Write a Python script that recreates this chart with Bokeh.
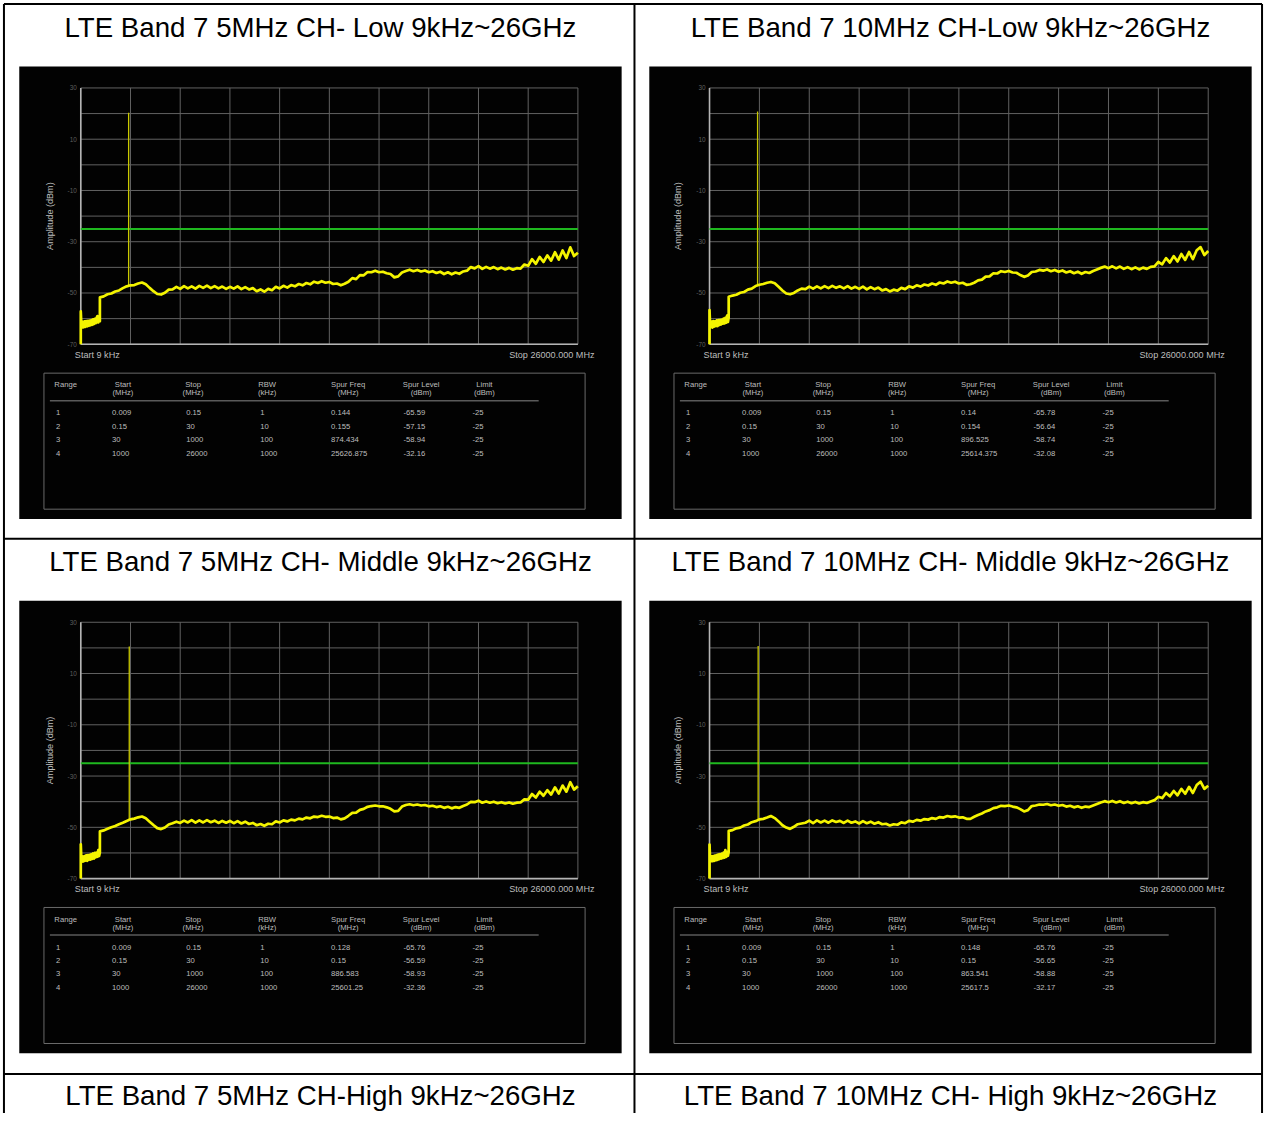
import math
from bokeh.plotting import figure
from bokeh.models import Range1d
from bokeh.embed import file_html
from bokeh.resources import INLINE
from bokeh.core.properties import value

# ---------------------------------------------------------------- data
titles = [
    "LTE Band 7 5MHz CH- Low 9kHz~26GHz",
    "LTE Band 7 10MHz CH-Low 9kHz~26GHz",
    "LTE Band 7 5MHz CH- Middle 9kHz~26GHz",
    "LTE Band 7 10MHz CH- Middle 9kHz~26GHz",
    "LTE Band 7 5MHz CH-High 9kHz~26GHz",
    "LTE Band 7 10MHz CH- High 9kHz~26GHz",
]

freq_start_mhz = 0.009
freq_stop_mhz = 26000.0
amp_top_dbm = 30
amp_bottom_dbm = -70
limit_dbm = -25
freq_grid_mhz = [0.009, 2600, 5200, 7800, 10400, 13000, 15600, 18200, 20800, 23400, 26000]
amp_grid_dbm = [30, 20, 10, 0, -10, -20, -30, -40, -50, -60, -70]
amp_tick_values = [30, 10, -10, -30, -50, -70]
amp_tick_labels = ["30", "10", "-10", "-30", "-50", "-70"]
start_label = "Start 9 kHz"
stop_label = "Stop 26000.000 MHz"
y_label = "Amplitude (dBm)"

# trace sampling frequencies (MHz)
trace_freq_low_mhz = [0.009, 0.144, 0.155, 30, 60, 105, 150, 195, 240, 285, 330, 375, 420,
                      465, 510, 555, 600, 645, 690, 735, 780, 825, 870, 915, 960, 999]
trace_freq_high_mhz = list(range(1000, 26001, 200))

# carrier (fundamental) per panel
carrier_mhz = [2502.5, 2505.0, 2535.0, 2535.0]
carrier_peak_dbm = [20.3, 20.8, 20.5, 20.7]
carrier_base_dbm = [-47.2, -47.1, -46.9, -47.0]

# trace levels (dBm)
level_low_p1 = [-70.0, -65.6, -57.2, -62.4, -63.5, -61.3, -63.4, -61.1, -63.2, -61.0, -63.0, -60.9, -62.8,
                -60.8, -62.6, -60.6, -62.4, -60.3, -62.1, -60.1, -61.8, -59.8, -59.0, -61.5, -59.5, -61.0]
level_high_p1 = [
    -51.7, -51.3, -50.5, -50.2, -49.4, -49.0, -48.1, -47.4, -47.0, -46.9,
    -46.3, -45.9, -46.6, -48.0, -49.3, -50.4, -50.6, -49.9, -48.7, -48.6,
    -47.6, -48.4, -47.3, -48.2, -47.4, -48.3, -47.2, -48.0, -47.1, -48.1,
    -47.3, -48.2, -47.5, -48.4, -47.6, -48.3, -47.4, -48.5, -47.7, -48.6,
    -48.1, -49.3, -48.6, -49.5, -48.4, -48.9, -47.6, -48.2, -47.2, -47.9,
    -46.9, -47.4, -46.5, -47.0, -46.1, -46.6, -45.6, -46.1, -45.4, -46.0,
    -45.7, -46.5, -46.3, -47.0, -46.4, -45.6, -44.2, -44.6, -43.0, -43.1,
    -41.8, -41.9, -41.3, -41.9, -41.7, -42.3, -42.6, -43.9, -43.5, -42.0,
    -41.4, -40.9, -41.5, -41.0, -41.6, -41.2, -41.9, -41.5, -42.2, -41.7,
    -42.6, -41.9, -42.7, -42.0, -42.5, -41.6, -41.3, -39.9, -40.4, -39.5,
    -40.6, -39.8, -40.5, -39.9, -40.7, -40.1, -40.8, -40.2, -40.9, -40.3,
    -40.5, -38.9, -39.4, -36.8, -38.6, -35.9, -37.9, -35.3, -37.4, -34.1,
    -37.0, -33.4, -36.4, -32.2, -35.6, -34.3]

level_low_p2 = [-70.0, -65.8, -56.7, -62.5, -63.3, -61.2, -63.5, -61.0, -63.1, -61.1, -62.9, -60.7, -62.9,
                -60.6, -62.5, -60.5, -62.3, -60.4, -62.0, -60.0, -61.9, -59.7, -61.6, -58.8, -61.3, -59.6]
level_high_p2 = [
    -51.5, -51.0, -50.7, -49.9, -49.6, -48.7, -48.3, -47.3, -46.8, -46.5,
    -46.0, -45.7, -46.2, -47.6, -49.0, -50.2, -50.5, -50.0, -49.0, -48.3,
    -48.5, -47.5, -48.3, -47.4, -48.2, -47.3, -48.1, -47.2, -48.0, -47.4,
    -48.2, -47.3, -48.3, -47.6, -48.4, -47.5, -48.6, -47.7, -48.5, -47.9,
    -49.0, -48.5, -49.4, -48.7, -49.1, -48.0, -48.5, -47.4, -47.9, -47.0,
    -47.5, -46.7, -47.1, -46.3, -46.8, -45.9, -46.3, -45.5, -46.0, -45.6,
    -46.3, -46.0, -46.8, -46.6, -46.0, -45.1, -44.8, -43.6, -43.5, -42.3,
    -42.4, -41.5, -41.8, -41.4, -42.0, -42.1, -43.0, -43.7, -43.2, -41.8,
    -41.6, -41.0, -41.3, -40.8, -41.5, -41.0, -41.7, -41.2, -42.0, -41.5,
    -42.3, -41.7, -42.5, -41.8, -42.2, -41.4, -40.8, -40.2, -39.7, -40.3,
    -39.6, -40.4, -39.7, -40.6, -39.9, -40.7, -40.0, -40.8, -40.1, -40.6,
    -39.8, -39.6, -37.9, -38.8, -36.4, -38.1, -35.6, -37.7, -34.8, -37.1,
    -34.0, -36.8, -33.3, -32.1, -35.2, -33.6]

level_low_p3 = [-70.0, -65.8, -56.6, -62.6, -63.4, -61.4, -63.3, -61.2, -63.0, -60.9, -63.1, -60.8, -62.7,
                -60.7, -62.6, -60.5, -62.3, -60.2, -62.2, -60.0, -61.7, -59.9, -61.5, -58.9, -61.2, -59.8]
level_high_p3 = [
    -51.6, -51.2, -50.6, -50.0, -49.5, -48.8, -48.2, -47.5, -46.9, -46.6,
    -46.1, -45.8, -46.5, -47.8, -49.1, -50.3, -50.7, -50.1, -48.9, -48.4,
    -47.8, -48.3, -47.4, -48.1, -47.2, -48.2, -47.3, -48.1, -47.2, -48.0,
    -47.4, -48.3, -47.5, -48.2, -47.5, -48.4, -47.6, -48.5, -47.8, -48.7,
    -48.3, -49.2, -48.7, -49.4, -48.6, -48.8, -47.7, -48.1, -47.3, -47.7,
    -47.0, -47.3, -46.6, -46.9, -46.2, -46.5, -45.8, -46.0, -45.5, -45.9,
    -45.8, -46.4, -46.2, -46.9, -46.5, -45.5, -44.4, -44.3, -43.2, -42.8,
    -42.0, -41.7, -41.5, -41.8, -41.8, -42.2, -42.8, -43.8, -43.6, -41.9,
    -41.3, -41.0, -41.4, -41.1, -41.5, -41.3, -41.8, -41.6, -42.1, -41.8,
    -42.4, -42.0, -42.6, -42.1, -42.4, -41.7, -41.1, -40.1, -40.2, -39.6,
    -40.4, -39.9, -40.4, -40.0, -40.6, -40.2, -40.7, -40.3, -40.8, -40.4,
    -40.3, -39.1, -39.2, -37.0, -38.4, -36.1, -37.7, -35.5, -37.2, -34.4,
    -36.8, -33.7, -36.1, -32.4, -35.3, -34.0]

level_low_p4 = [-70.0, -65.8, -56.7, -62.5, -63.2, -61.3, -63.2, -61.2, -63.1, -61.0, -62.9, -60.8, -62.7,
                -60.6, -62.4, -60.5, -62.2, -60.3, -62.0, -59.9, -61.8, -58.9, -61.5, -59.7, -61.1, -59.6]
level_high_p4 = [
    -51.4, -51.1, -50.4, -50.1, -49.3, -48.9, -48.0, -47.6, -46.9, -46.7,
    -46.2, -45.6, -46.4, -47.7, -49.2, -50.1, -50.6, -49.8, -48.8, -48.5,
    -48.2, -47.4, -48.4, -47.3, -48.1, -47.4, -48.2, -47.3, -47.9, -47.5,
    -48.3, -47.4, -48.2, -47.7, -48.5, -47.6, -48.4, -47.8, -48.6, -48.0,
    -48.8, -48.6, -49.3, -48.8, -49.0, -48.1, -48.4, -47.5, -47.8, -47.1,
    -47.4, -46.8, -47.0, -46.4, -46.7, -46.0, -46.2, -45.6, -45.9, -45.7,
    -46.2, -46.1, -46.7, -46.7, -45.9, -45.2, -44.6, -43.8, -43.3, -42.5,
    -42.2, -41.6, -41.7, -41.5, -41.9, -42.2, -42.9, -43.8, -43.3, -41.7,
    -41.5, -41.1, -41.2, -40.9, -41.4, -41.1, -41.6, -41.3, -41.9, -41.6,
    -42.2, -41.8, -42.4, -41.9, -42.1, -41.5, -40.9, -40.3, -39.8, -40.2,
    -39.7, -40.3, -39.8, -40.5, -40.0, -40.6, -40.1, -40.7, -40.2, -40.5,
    -39.9, -39.4, -38.1, -38.6, -36.6, -37.9, -35.8, -37.5, -35.0, -36.9,
    -34.2, -36.6, -33.5, -32.2, -35.0, -33.8]

levels_low = [level_low_p1, level_low_p2, level_low_p3, level_low_p4]
levels_high = [level_high_p1, level_high_p2, level_high_p3, level_high_p4]

# result tables
header_top = ["Range", "Start", "Stop", "RBW", "Spur Freq", "Spur Level", "Limit"]
header_unit = ["", "(MHz)", "(MHz)", "(kHz)", "(MHz)", "(dBm)", "(dBm)"]
range_no = ["1", "2", "3", "4"]
range_start_mhz = ["0.009", "0.15", "30", "1000"]
range_stop_mhz = ["0.15", "30", "1000", "26000"]
range_rbw_khz = ["1", "10", "100", "1000"]
range_limit_dbm = ["-25", "-25", "-25", "-25"]
spur_freq_p1 = ["0.144", "0.155", "874.434", "25626.875"]
spur_level_p1 = ["-65.59", "-57.15", "-58.94", "-32.16"]
spur_freq_p2 = ["0.14", "0.154", "896.525", "25614.375"]
spur_level_p2 = ["-65.78", "-56.64", "-58.74", "-32.08"]
spur_freq_p3 = ["0.128", "0.15", "886.583", "25601.25"]
spur_level_p3 = ["-65.76", "-56.59", "-58.93", "-32.36"]
spur_freq_p4 = ["0.148", "0.15", "863.541", "25617.5"]
spur_level_p4 = ["-65.76", "-56.65", "-58.88", "-32.17"]
spur_freqs = [spur_freq_p1, spur_freq_p2, spur_freq_p3, spur_freq_p4]
spur_levels = [spur_level_p1, spur_level_p2, spur_level_p3, spur_level_p4]

# ---------------------------------------------------------------- layout (reference pixels)
W, H = 1264, 1113
X0, X1, Y0, Y1 = 0, 1280, 0, 1129
S = W / 1280.0
FONT = value("Liberation Sans")


def fs(px):
    return f"{px * S:.2f}px"


p = figure(width=W, height=H, x_range=Range1d(X0, X1), y_range=Range1d(Y1, Y0),
           output_backend="svg", toolbar_location=None, min_border=0,
           x_axis_location=None, y_axis_location=None, outline_line_color=None,
           background_fill_color="white", border_fill_color="white")
p.grid.visible = False

# document table lines
vx = [3.5, 642, 1277.5]
hy = [3.5, 546, 1089]
p.segment(x0=vx, y0=[3.5] * 3, x1=vx, y1=[Y1] * 3, line_color="black", line_width=2)
p.segment(x0=[3.5] * 3, y0=hy, x1=[1277.5] * 3, y1=hy, line_color="black", line_width=2)

# cell titles
col_cx = [324, 962]
row_ty = [27, 569, 1111]
p.text(x=[col_cx[i % 2] for i in range(6)], y=[row_ty[i // 2] for i in range(6)], text=titles,
       text_font=FONT, text_font_size=fs(28), text_align="center", text_baseline="middle",
       text_color="black")

panel_origin = [(19, 67), (657, 67), (19, 609), (657, 609)]
PW, PH = 610, 459
frame_lr = [(81.3, 584.7), (718.0, 1223.0)]
frame_tb = [(88.7, 348.7), (630.7, 890.7)]

GRID = "#626262"
AXIS = "#b4b4b4"
TXT = "#bdbdbd"

for i in range(4):
    ox, oy = panel_origin[i]
    L, R = frame_lr[i % 2]
    T, B = frame_tb[i // 2]
    # black screen
    p.quad(left=[ox], right=[ox + PW], top=[oy], bottom=[oy + PH], fill_color="#020202", line_color=None)

    # scales for this screen's plot area
    fspan = freq_stop_mhz - freq_start_mhz
    aspan = amp_top_dbm - amp_bottom_dbm
    fr = Range1d(freq_start_mhz + (X0 - L) / (R - L) * fspan, freq_start_mhz + (X1 - L) / (R - L) * fspan)
    ar = Range1d(amp_bottom_dbm + (B - Y1) / (B - T) * aspan, amp_bottom_dbm + (B - Y0) / (B - T) * aspan)
    xn, yn = f"f{i}", f"a{i}"
    p.extra_x_ranges[xn] = fr
    p.extra_y_ranges[yn] = ar
    kw = dict(x_range_name=xn, y_range_name=yn)

    ng = len(freq_grid_mhz)
    p.segment(x0=freq_grid_mhz, y0=[amp_bottom_dbm] * ng, x1=freq_grid_mhz, y1=[amp_top_dbm] * ng,
              line_color=GRID, line_width=1, **kw)
    na = len(amp_grid_dbm)
    p.segment(x0=[freq_start_mhz] * na, y0=amp_grid_dbm, x1=[freq_stop_mhz] * na, y1=amp_grid_dbm,
              line_color=GRID, line_width=1, **kw)
    # axis lines
    p.segment(x0=[freq_start_mhz, freq_start_mhz], y0=[amp_bottom_dbm, amp_bottom_dbm],
              x1=[freq_start_mhz, freq_stop_mhz], y1=[amp_top_dbm, amp_bottom_dbm],
              line_color=AXIS, line_width=1.6, **kw)
    # tick labels
    p.text(x=[freq_start_mhz] * len(amp_tick_values), y=amp_tick_values, text=amp_tick_labels,
           x_offset=-4 * S, text_align="right", text_baseline="middle", text_font=FONT,
           text_font_size=fs(6.5), text_color="#5e5e5e", **kw)
    p.text(x=[freq_start_mhz], y=[(amp_top_dbm + amp_bottom_dbm) / 2], text=[y_label],
           x_offset=-31.5 * S, angle=math.pi / 2, text_align="center", text_baseline="middle",
           text_font=FONT, text_font_size=fs(9.2), text_color=TXT, **kw)
    p.text(x=[freq_start_mhz], y=[amp_bottom_dbm], text=[start_label], x_offset=-6 * S, y_offset=10.5 * S,
           text_align="left", text_baseline="middle", text_font=FONT, text_font_size=fs(9.2),
           text_color=TXT, **kw)
    p.text(x=[freq_stop_mhz], y=[amp_bottom_dbm], text=[stop_label], x_offset=16.8 * S, y_offset=10.5 * S,
           text_align="right", text_baseline="middle", text_font=FONT, text_font_size=fs(9.2),
           text_color=TXT, **kw)

    # limit line
    p.line(x=[freq_start_mhz, freq_stop_mhz], y=[limit_dbm, limit_dbm], line_color="#1fb81f",
           line_width=2, **kw)
    # carrier
    p.segment(x0=[carrier_mhz[i]], y0=[carrier_base_dbm[i]], x1=[carrier_mhz[i]], y1=[carrier_peak_dbm[i]],
              line_color="#c9c900", line_width=1.3, **kw)
    # trace
    p.line(x=trace_freq_low_mhz + trace_freq_high_mhz, y=levels_low[i] + levels_high[i],
           line_color="#f4f400", line_width=2.7, line_join="round", **kw)

    # result table
    p.quad(left=[ox + 25], right=[ox + 573], top=[oy + 311], bottom=[oy + 449], fill_color=None,
           line_color="#6a6a6a", line_width=1)
    p.segment(x0=[ox + 31], y0=[oy + 339], x1=[ox + 526], y1=[oy + 339], line_color="#5a5a5a", line_width=1.5)
    hx = [47, 105, 176, 251, 333, 407, 471]
    p.text(x=[ox + v for v in hx], y=[oy + 323] * 7, text=header_top, text_align="center",
           text_baseline="middle", text_font=FONT, text_font_size=fs(7.8), text_color=TXT)
    p.text(x=[ox + v for v in hx], y=[oy + 331] * 7, text=header_unit, text_align="center",
           text_baseline="middle", text_font=FONT, text_font_size=fs(7.8), text_color=TXT)
    cols = [range_no, range_start_mhz, range_stop_mhz, range_rbw_khz, spur_freqs[i], spur_levels[i],
            range_limit_dbm]
    dx = [37.3, 94, 169, 244, 315.7, 389, 459]
    ry = [351.3, 364.7, 378, 392.3]
    xs, ys, ts = [], [], []
    for c, col in enumerate(cols):
        for r, t in enumerate(col):
            xs.append(ox + dx[c])
            ys.append(oy + ry[r])
            ts.append(t)
    p.text(x=xs, y=ys, text=ts, text_align="left", text_baseline="middle", text_font=FONT,
           text_font_size=fs(7.8), text_color=TXT)

open("out.html", "w").write(file_html(p, INLINE))
